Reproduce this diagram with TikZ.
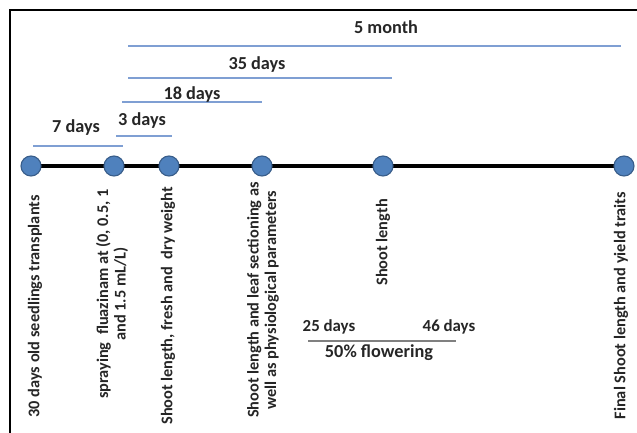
\documentclass[tikz,border=0pt]{standalone}
\usepackage{fontspec}
\setmainfont{Carlito}
\usepackage{xcolor}
\usetikzlibrary{positioning,calc,backgrounds}

\definecolor{dotblue}{HTML}{4F81BD}
\definecolor{dotedge}{HTML}{385D8A}
\definecolor{spanblue}{HTML}{7F9FD3}
\definecolor{txtgray}{HTML}{262626}

\tikzset{
    dot/.style={circle, fill=dotblue, draw=dotedge, line width=0.8pt, minimum size=0.5cm, inner sep=0pt},
    span/.style={spanblue, line width=0.8pt},
    spanlabel/.style={font=\fontsize{13}{15}\selectfont\bfseries, text=txtgray, inner sep=0pt},
    eventlabel/.style={rotate=90, anchor=east, align=center, inner sep=0pt,
        font=\fontsize{11.6}{12.5}\selectfont\bfseries, text=txtgray}
}

\begin{document}
\begin{tikzpicture}[x=0.025cm, y=-0.025cm]
    \useasboundingbox (0,0) rectangle (637,433);

    % Frame
    \draw[line width=2pt] (10,433) -- (10,10) -- (637,10);

    % Timeline dots
    \foreach \x/\n in {31/t0, 114/t1, 169/t2, 262/t3, 383/t4, 624/t5} {
        \node[dot] (\n) at (\x,166) {};
    }

    % Draw timeline
    \begin{scope}[on background layer]
        \draw[line width=2.8pt] (t0.center) -- (t5.center);
    \end{scope}

    % Durations
    \draw[span] (33,146) -- (123,146);
    \node[spanlabel] (d7) at (76,128) {7 days};
    \draw[span] (116,136) -- (172,136);
    \node[spanlabel] (d3) at (142,121) {3 days};
    \draw[span] (122,102) -- (262,102);
    \node[spanlabel] (d18) at (192,95) {18 days};
    \draw[span] (128,78) -- (392,78);
    \node[spanlabel] (d35) at (257,65) {35 days};
    \draw[span] (128,46) -- (621,46);
    \node[spanlabel] (m5) at (386,27) {5 month};

    % Events
    \node[eventlabel] (e0) at (35,195) {30 days old seedlings transplants};
    \node[eventlabel] (e1) at (112,189) {spraying\ \ fluazinam at (0, 0.5, 1\\and 1.5 mL/L)};
    \node[eventlabel] (e2) at (168,187) {Shoot length, fresh and\ \ dry weight};
    \node[eventlabel] (e3) at (263,182) {Shoot length and leaf sectioning as\\well as physiological parameters};
    \node[eventlabel] (e4) at (383,199) {Shoot length};
    \node[eventlabel] (e5) at (621,192) {Final Shoot length and yield traits};

    % Flowering window
    \node[spanlabel, font=\fontsize{12}{14}\selectfont\bfseries] (f25) at (329,327) {25 days};
    \node[spanlabel, font=\fontsize{12}{14}\selectfont\bfseries] (f46) at (449,327) {46 days};
    \draw[gray, line width=0.8pt] (308,341) -- (456,341);
    \node[spanlabel] (fl) at (379,353) {50\% flowering};
\end{tikzpicture}
\end{document}
